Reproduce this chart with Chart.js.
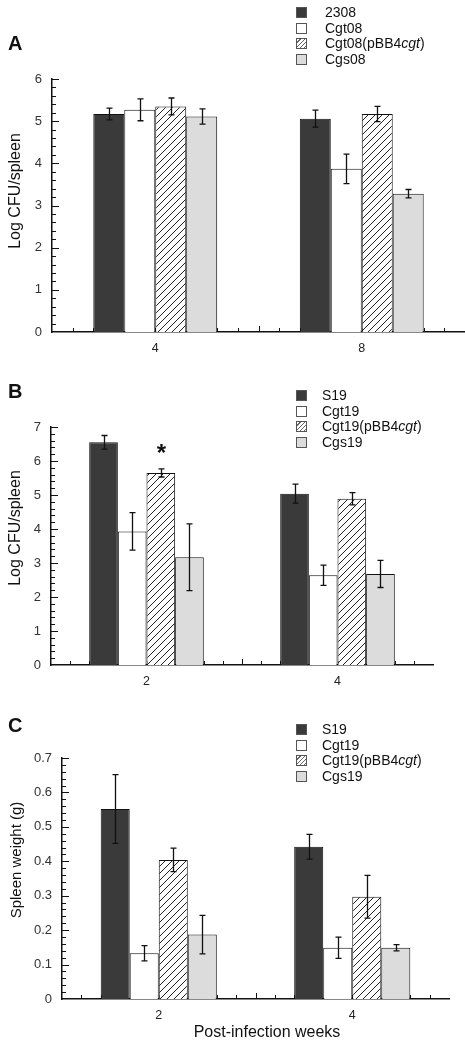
<!DOCTYPE html>
<html>
<head>
<meta charset="utf-8">
<script src="https://cdn.jsdelivr.net/npm/chart.js@4"></script>
<style>
  body { margin: 0; background: #fff; font-family: "Liberation Sans", Arial, sans-serif; }
  #wrap { position: relative; width: 465px; height: 1046px; overflow: hidden; }
  canvas { position: absolute; left: 0; }
  .letter { position: absolute; left: 8px; font-weight: bold; font-size: 20px; line-height: 20px; color: #111; }
  .legend { position: absolute; left: 296px; font-size: 14px; color: #111; }
  .legend div { height: 15.5px; line-height: 15.5px; position: relative; white-space: nowrap; }
  .legend span.sw { position: absolute; left: 0; top: 2px; width: 11px; height: 11px; border: 1px solid #555; box-sizing: border-box; }
  .ytitle { position: absolute; transform: translate(-50%, -50%) rotate(-90deg); white-space: nowrap; color: #111; }
  .xtitle { position: absolute; transform: translate(-50%, -50%); white-space: nowrap; font-size: 16px; color: #111; }
</style>
</head>
<body>
<div id="wrap">
  <canvas id="chartA" width="465" height="360" style="top:0px"></canvas>
  <canvas id="chartB" width="465" height="340" style="top:350px"></canvas>
  <canvas id="chartC" width="465" height="356" style="top:690px"></canvas>

  <div class="letter" style="top:33px">A</div>
  <div class="letter" style="top:381px">B</div>
  <div class="letter" style="top:715px">C</div>

  <div class="ytitle" style="left:15px; top:191px; font-size:16px">Log CFU/spleen</div>
  <div class="ytitle" style="left:15px; top:528px; font-size:16px">Log CFU/spleen</div>
  <div class="ytitle" style="left:15px; top:860px; font-size:15px">Spleen weight (g)</div>
  <div class="xtitle" style="left:267px; top:1032px">Post-infection weeks</div>

  <div class="legend" id="legA" style="top:5px"></div>
  <div class="legend" id="legB" style="top:388px"></div>
  <div class="legend" id="legC" style="top:722px"></div>
</div>

<script>
// categories
const weeksA = ["4", "8"];
const weeksBC = ["2", "4"];

// strain names (legend labels)
const strainsA = ["2308", "Cgt08", "Cgt08(pBB4cgt)", "Cgs08"];
const strainsBC = ["S19", "Cgt19", "Cgt19(pBB4cgt)", "Cgs19"];

// panel A - Log CFU/spleen, one array per strain (weeks 4, 8)
const a2308 = [5.17, 5.06];
const aCgt08 = [5.27, 3.87];
const aCgt08comp = [5.35, 5.17];
const aCgs08 = [5.11, 3.28];
const a2308Err = [0.14, 0.2];
const aCgt08Err = [0.26, 0.35];
const aCgt08compErr = [0.2, 0.18];
const aCgs08Err = [0.18, 0.1];

// panel B - Log CFU/spleen (weeks 2, 4)
const bS19 = [6.55, 5.04];
const bCgt19 = [3.93, 2.64];
const bCgt19comp = [5.65, 4.89];
const bCgs19 = [3.17, 2.68];
const bS19Err = [0.2, 0.28];
const bCgt19Err = [0.55, 0.3];
const bCgt19compErr = [0.12, 0.18];
const bCgs19Err = [0.98, 0.4];

// panel C - spleen weight in g (weeks 2, 4)
const cS19 = [0.552, 0.442];
const cCgt19 = [0.133, 0.149];
const cCgt19comp = [0.404, 0.297];
const cCgs19 = [0.187, 0.149];
const cS19Err = [0.1, 0.036];
const cCgt19Err = [0.022, 0.031];
const cCgt19compErr = [0.034, 0.062];
const cCgs19Err = [0.056, 0.009];

// y axis ticks
const yTicksA = [0, 1, 2, 3, 4, 5, 6];
const yTicksB = [0, 1, 2, 3, 4, 5, 6, 7];
const yTicksC = [0, 0.1, 0.2, 0.3, 0.4, 0.5, 0.6, 0.7];

const FONT = "'Liberation Sans', Arial, sans-serif";

// diagonal hatch fill for the complemented strain
function makeHatch() {
  const c = document.createElement("canvas");
  c.width = 7;
  c.height = 7;
  const g = c.getContext("2d");
  g.fillStyle = "#fff";
  g.fillRect(0, 0, 7, 7);
  g.strokeStyle = "#222";
  g.lineWidth = 1;
  g.beginPath();
  g.moveTo(-1, 8); g.lineTo(8, -1);
  g.moveTo(-1, 1); g.lineTo(1, -1);
  g.moveTo(6, 8); g.lineTo(8, 6);
  g.stroke();
  return g.createPattern(c, "repeat");
}
const hatch = makeHatch();

const fills = ["#3a3a3a", "#ffffff", hatch, "#dcdcdc"];
const swatchCss = [
  "background:#3a3a3a",
  "background:#fff",
  "background:repeating-linear-gradient(135deg,#fff 0 2px,#666 2px 3px)",
  "background:#dcdcdc",
];

function buildLegend(id, names, textLeft) {
  const box = document.getElementById(id);
  for (let i = 0; i < names.length; i++) {
    const row = document.createElement("div");
    row.style.paddingLeft = textLeft + "px";
    const sw = document.createElement("span");
    sw.className = "sw";
    sw.style.cssText = swatchCss[i];
    row.appendChild(sw);
    // put the gene name in italics
    const m = names[i].match(/^(.*pBB4)(cgt)(\))$/);
    if (m) {
      row.appendChild(document.createTextNode(m[1]));
      const it = document.createElement("i");
      it.textContent = m[2];
      row.appendChild(it);
      row.appendChild(document.createTextNode(m[3]));
    } else {
      row.appendChild(document.createTextNode(names[i]));
    }
    box.appendChild(row);
  }
}

// small ticks pointing into the plot, like the original figure
const innerTicks = {
  id: "innerTicks",
  beforeDatasetsDraw(chart, args, opts) {
    const { ctx, chartArea, scales } = chart;
    const x = scales.x, y = scales.y;
    ctx.save();
    ctx.strokeStyle = "#111";
    ctx.lineWidth = 1;
    ctx.beginPath();
    const minor = opts.yStep / 5;
    for (let i = 1; i * minor <= y.max + 1e-9; i++) {
      const py = Math.round(y.getPixelForValue(i * minor)) + 0.5;
      const len = i % 5 === 0 ? 7 : 4;
      ctx.moveTo(chartArea.left, py);
      ctx.lineTo(chartArea.left + len, py);
    }
    const n = chart.data.labels.length * 10;
    const w = (chartArea.right - chartArea.left) / n;
    for (let k = 1; k < n; k++) {
      const px = Math.round(chartArea.left + k * w) + 0.5;
      const len = k % 10 === 0 ? 6 : 4;
      ctx.moveTo(px, chartArea.bottom);
      ctx.lineTo(px, chartArea.bottom - len);
    }
    ctx.stroke();
    ctx.restore();
  },
};

// error bars plus an optional star over one bar
const errorBars = {
  id: "errorBars",
  afterDatasetsDraw(chart, args, opts) {
    const { ctx } = chart;
    const y = chart.scales.y;
    ctx.save();
    ctx.strokeStyle = "#111";
    ctx.lineWidth = 1.3;
    chart.data.datasets.forEach((ds, i) => {
      chart.getDatasetMeta(i).data.forEach((bar, j) => {
        const v = ds.data[j];
        const e = ds.errors[j];
        const top = y.getPixelForValue(v + e);
        const bot = y.getPixelForValue(v - e);
        const bx = Math.round(bar.x) + 0.5;
        ctx.beginPath();
        ctx.moveTo(bx, top); ctx.lineTo(bx, bot);
        ctx.moveTo(bx - 3, top); ctx.lineTo(bx + 3, top);
        ctx.moveTo(bx - 3, bot); ctx.lineTo(bx + 3, bot);
        ctx.stroke();
        if (opts.star && opts.star.dataset === i && opts.star.index === j) {
          ctx.fillStyle = "#111";
          ctx.font = "bold 24px " + FONT;
          ctx.textAlign = "center";
          ctx.textBaseline = "middle";
          ctx.fillText("*", bx, top - 14);
        }
      });
    });
    ctx.restore();
  },
};

function makeChart(id, labels, names, values, errors, yTicks, area, star) {
  const datasets = [];
  for (let i = 0; i < names.length; i++) {
    datasets.push({
      label: names[i],
      data: values[i],
      errors: errors[i],
      backgroundColor: fills[i],
      borderColor: "#111",
      borderWidth: 1,
      categoryPercentage: 0.6,
      barPercentage: 1.0,
    });
  }
  const yStep = yTicks[1] - yTicks[0];
  return new Chart(document.getElementById(id), {
    type: "bar",
    data: { labels: labels, datasets: datasets },
    options: {
      responsive: false,
      animation: false,
      devicePixelRatio: 1,
      layout: { padding: { top: area.top, right: area.right, left: 0, bottom: 0 } },
      plugins: {
        legend: { display: false },
        tooltip: { enabled: false },
        innerTicks: { yStep: yStep },
        errorBars: { star: star },
      },
      scales: {
        x: {
          grid: { display: false, drawTicks: false },
          border: { color: "#111", width: 1.5 },
          ticks: { color: "#222", font: { family: FONT, size: 12.5 }, padding: 9 },
          afterFit(scale) { scale.height = area.xh; },
        },
        y: {
          min: yTicks[0],
          max: yTicks[yTicks.length - 1],
          grid: { display: false, drawTicks: false },
          border: { color: "#111", width: 1.5 },
          ticks: {
            stepSize: yStep,
            color: "#333",
            padding: 10,
            font: { family: FONT, size: 13 },
          },
          afterFit(scale) { scale.width = area.left; },
        },
      },
    },
    plugins: [innerTicks, errorBars],
  });
}

buildLegend("legA", strainsA, 29);
buildLegend("legB", strainsBC, 26);
buildLegend("legC", strainsBC, 26);

makeChart("chartA", weeksA, strainsA,
  [a2308, aCgt08, aCgt08comp, aCgs08],
  [a2308Err, aCgt08Err, aCgt08compErr, aCgs08Err],
  yTicksA, { left: 52, right: 0, top: 79, xh: 28 }, null);

makeChart("chartB", weeksBC, strainsBC,
  [bS19, bCgt19, bCgt19comp, bCgs19],
  [bS19Err, bCgt19Err, bCgt19compErr, bCgs19Err],
  yTicksB, { left: 51, right: 32, top: 77, xh: 25 }, { dataset: 2, index: 0 });

makeChart("chartC", weeksBC, strainsBC,
  [cS19, cCgt19, cCgt19comp, cCgs19],
  [cS19Err, cCgt19Err, cCgt19compErr, cCgs19Err],
  yTicksC, { left: 62, right: 16, top: 68, xh: 47 }, null);
</script>
</body>
</html>
